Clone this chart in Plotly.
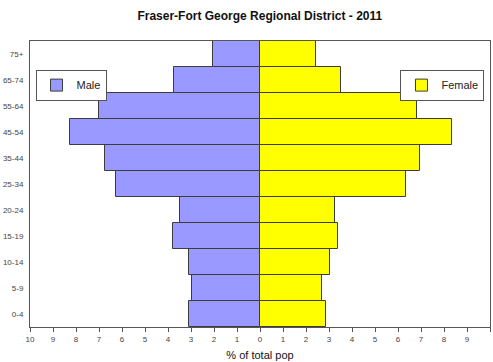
import plotly.graph_objects as go

# Population pyramid, Fraser-Fort George Regional District, 2011 census
age_groups = ["0-4", "5-9", "10-14", "15-19", "20-24", "25-34",
              "35-44", "45-54", "55-64", "65-74", "75+"]
male_pct = [3.07, 2.94, 3.10, 3.77, 3.46, 6.27, 6.74, 8.25, 7.01, 3.72, 2.06]
female_pct = [2.88, 2.68, 3.03, 3.40, 3.27, 6.36, 6.97, 8.36, 6.84, 3.53, 2.42]
tick_vals = list(range(-10, 11))
tick_text = [str(abs(v)) for v in tick_vals]

font_family = "Liberation Sans, Arial, sans-serif"
outline = dict(color="#3c3c3c", width=1)

fig = go.Figure()
fig.add_trace(go.Bar(
    y=age_groups, x=[-v for v in male_pct], orientation="h", name="Male",
    marker=dict(color="#9999FF", line=outline), legend="legend",
    showlegend=True,
))
fig.add_trace(go.Bar(
    y=age_groups, x=female_pct, orientation="h", name="Female",
    marker=dict(color="#FFFF00", line=outline), legend="legend2",
    showlegend=True,
))

legend_style = dict(
    bgcolor="white", bordercolor="#555555", borderwidth=1,
    font=dict(family=font_family, size=11, color="#222222"),
    yanchor="top", y=0.9, itemwidth=30,
    tracegroupgap=0, visible=True,
)

fig.update_layout(
    width=493, height=362,
    margin=dict(l=30, r=3, t=41, b=35),
    paper_bgcolor="white", plot_bgcolor="white",
    barmode="overlay", bargap=0, showlegend=True,
    title=dict(text="<b>Fraser-Fort George Regional District - 2011</b>",
               x=0.527, xanchor="center", y=0.955, yanchor="middle",
               font=dict(family=font_family, size=12, color="#111111")),
    legend=dict(x=0.012, xanchor="left", **legend_style),
    legend2=dict(x=0.988, xanchor="right", **legend_style),
    xaxis=dict(
        range=[-10, 10], tickvals=tick_vals, ticktext=tick_text,
        ticks="outside", ticklen=4, tickcolor="#555555",
        tickfont=dict(family=font_family, size=8, color="#444444"),
        showgrid=False, zeroline=False,
        showline=True, linecolor="#555555", linewidth=1, mirror=True,
        title=dict(text="% of total pop", standoff=8,
                   font=dict(family=font_family, size=11, color="#111111")),
    ),
    yaxis=dict(
        categoryorder="array", categoryarray=age_groups,
        tickfont=dict(family=font_family, size=8, color="#444444"),
        showgrid=False, zeroline=False, ticks="outside", ticklen=4,
        tickcolor="rgba(0,0,0,0)",
        showline=True, linecolor="#555555", linewidth=1, mirror=True,
    ),
)

fig.write_html("out.html")
